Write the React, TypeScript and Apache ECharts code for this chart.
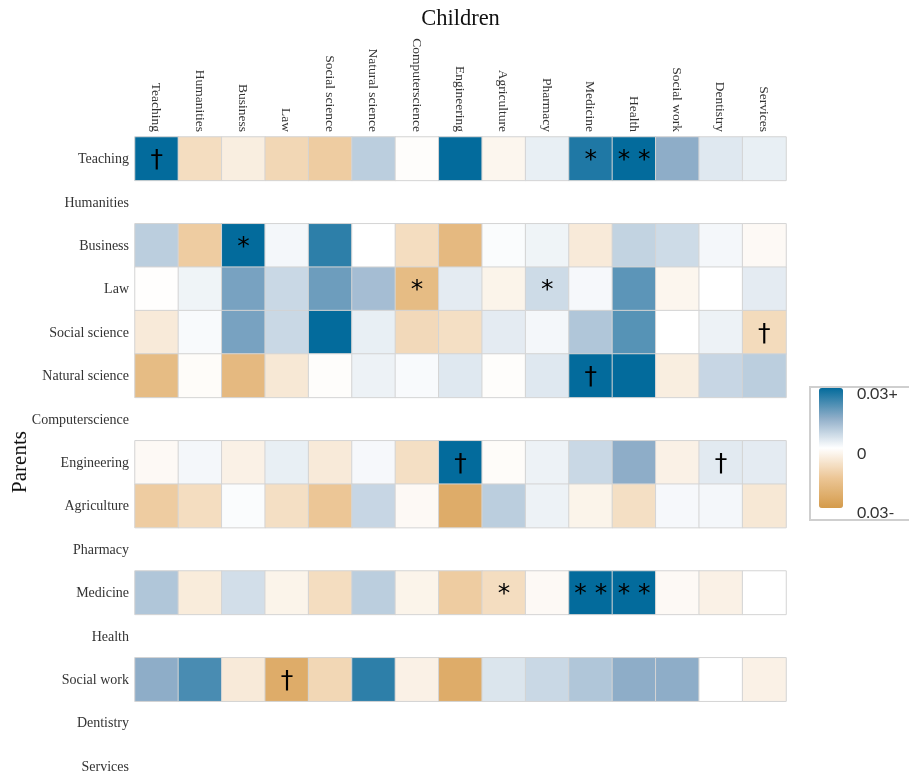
import React, { useEffect, useRef } from "react";
import * as echarts from "echarts";

const children = [
  "Teaching", "Humanities", "Business", "Law", "Social science", "Natural science",
  "Computerscience", "Engineering", "Agriculture", "Pharmacy", "Medicine", "Health",
  "Social work", "Dentistry", "Services",
];
const parents = [...children];

// values per parent row (null = no data row)
const rowTeaching = [0.03, -0.009, -0.0045, -0.0105, -0.0135, 0.009, -0.0006, 0.03, -0.0024, 0.003, 0.027, 0.03, 0.015, 0.0042, 0.003];
const rowBusiness = [0.009, -0.0135, 0.03, 0.0015, 0.0255, 0.0, -0.009, -0.0195, 0.0006, 0.0021, -0.0054, 0.0081, 0.0066, 0.0015, -0.0015];
const rowLaw = [-0.0003, 0.0021, 0.0174, 0.0072, 0.0186, 0.012, -0.0186, 0.0036, -0.003, 0.0066, 0.0012, 0.0204, -0.0024, 0.0, 0.0036];
const rowSocialScience = [-0.0054, 0.0009, 0.0174, 0.0072, 0.03, 0.003, -0.0099, -0.0084, 0.0036, 0.0015, 0.0105, 0.021, 0.0, 0.0024, -0.0096];
const rowNaturalScience = [-0.0186, -0.0009, -0.0195, -0.006, -0.0006, 0.0024, 0.0009, 0.0042, -0.0006, 0.0042, 0.03, 0.03, -0.0045, 0.0075, 0.009];
const rowEngineering = [-0.0015, 0.0015, -0.0036, 0.003, -0.0054, 0.0012, -0.0084, 0.03, -0.0009, 0.0024, 0.0072, 0.015, -0.0036, 0.0039, 0.0036];
const rowAgriculture = [-0.0135, -0.009, 0.0006, -0.0084, -0.015, 0.0075, -0.0015, -0.024, 0.009, 0.0024, -0.003, -0.0084, 0.0012, 0.0015, -0.006];
const rowMedicine = [0.0105, -0.0051, 0.006, -0.003, -0.009, 0.009, -0.003, -0.0135, -0.009, -0.0015, 0.03, 0.03, -0.0015, -0.0036, 0.0];
const rowSocialWork = [0.015, 0.0225, -0.0054, -0.024, -0.0105, 0.0255, -0.0036, -0.024, 0.0048, 0.0072, 0.0105, 0.015, 0.015, 0.0, -0.0036];

const rows: (number[] | null)[] = [
  rowTeaching, null, rowBusiness, rowLaw, rowSocialScience, rowNaturalScience, null,
  rowEngineering, rowAgriculture, null, rowMedicine, null, rowSocialWork, null, null,
];

// significance marks: [parent, child, mark]
const marks: [string, string, string][] = [
  ["Teaching", "Teaching", "†"],
  ["Teaching", "Medicine", "*"],
  ["Teaching", "Health", "* *"],
  ["Business", "Business", "*"],
  ["Law", "Computerscience", "*"],
  ["Law", "Pharmacy", "*"],
  ["Social science", "Services", "†"],
  ["Natural science", "Medicine", "†"],
  ["Engineering", "Engineering", "†"],
  ["Engineering", "Dentistry", "†"],
  ["Medicine", "Agriculture", "*"],
  ["Medicine", "Medicine", "* *"],
  ["Medicine", "Health", "* *"],
  ["Social work", "Law", "†"],
];

const legendLabels = ["0.03+", "0", "0.03-"];
const yTitle = "Parents";

export default function App() {
  const ref = useRef<HTMLDivElement>(null);
  useEffect(() => {
    if (!ref.current) return;
    const chart = echarts.init(ref.current, null, { renderer: "svg" });
    const markMap: Record<string, string> = {};
    marks.forEach(([p, c, m]) => {
      markMap[`${children.indexOf(c)}_${parents.indexOf(p)}`] = m;
    });
    const data: any[] = [];
    rows.forEach((r, yi) => {
      if (!r) return;
      r.forEach((v, xi) => data.push([xi, yi, v]));
    });
    const serif = "'Liberation Serif', 'DejaVu Serif', serif";
    chart.setOption({
      animation: false,
      grid: { left: 135, top: 137, width: 651, height: 651, outerBoundsMode: "none", containLabel: false },
      xAxis: {
        type: "category",
        data: children,
        position: "top",
        name: "Children",
        nameLocation: "middle",
        nameGap: 108,
        nameTextStyle: { fontFamily: serif, fontSize: 22.5, color: "#111" },
        axisLine: { show: false },
        axisTick: { show: false },
        splitLine: { show: false },
        axisLabel: { rotate: 90, fontFamily: serif, fontSize: 13.5, color: "#333", margin: 5, interval: 0 },
      },
      yAxis: {
        type: "category",
        data: parents,
        inverse: true,
        axisLine: { show: false },
        axisTick: { show: false },
        splitLine: { show: false },
        axisLabel: { fontFamily: serif, fontSize: 14, color: "#333", margin: 6, interval: 0 },
      },
      visualMap: {
        type: "continuous",
        min: -0.03,
        max: 0.03,
        calculable: false,
        show: true,
        left: 819,
        top: 388,
        padding: 0,
        itemWidth: 24,
        itemHeight: 120,
        showLabel: false,
        inRange: { color: ["#d49b4b", "#ecc696", "#ffffff", "#8eadc8", "#036b9c"] },
      },
      graphic: [
        {
          type: "text",
          x: 19, y: 462,
          rotation: Math.PI / 2,
          style: { text: yTitle, fontFamily: serif, fontSize: 21, fill: "#111", align: "center", verticalAlign: "middle" },
        },
        {
          type: "rect",
          shape: { x: 810, y: 387, width: 120, height: 133 },
          style: { fill: "none", stroke: "#cfcfcf", lineWidth: 2 },
          z: 1,
        },
        {
          type: "text",
          x: 857, y: 392,
          style: { text: legendLabels[0], fontFamily: "Lato, sans-serif", fontSize: 16, fill: "#333", verticalAlign: "middle" },
        },
        {
          type: "text",
          x: 857, y: 452,
          style: { text: legendLabels[1], fontFamily: "Lato, sans-serif", fontSize: 16, fill: "#333", verticalAlign: "middle" },
        },
        {
          type: "text",
          x: 857, y: 511,
          style: { text: legendLabels[2], fontFamily: "Lato, sans-serif", fontSize: 16, fill: "#333", verticalAlign: "middle" },
        },
      ],
      series: [
        {
          type: "heatmap",
          data,
          itemStyle: { borderColor: "#d4d4d4", borderWidth: 1 },
          emphasis: { disabled: true },
          label: {
            show: true,
            fontFamily: "'DejaVu Sans', sans-serif",
            fontSize: 25,
            color: "#000",
            formatter: (p: any) => markMap[`${p.value[0]}_${p.value[1]}`] || "",
          },
        },
      ],
    });
    return () => chart.dispose();
  }, []);
  return <div ref={ref} style={{ position: "fixed", left: 0, top: 0, width: 909, height: 778 }} />;
}
